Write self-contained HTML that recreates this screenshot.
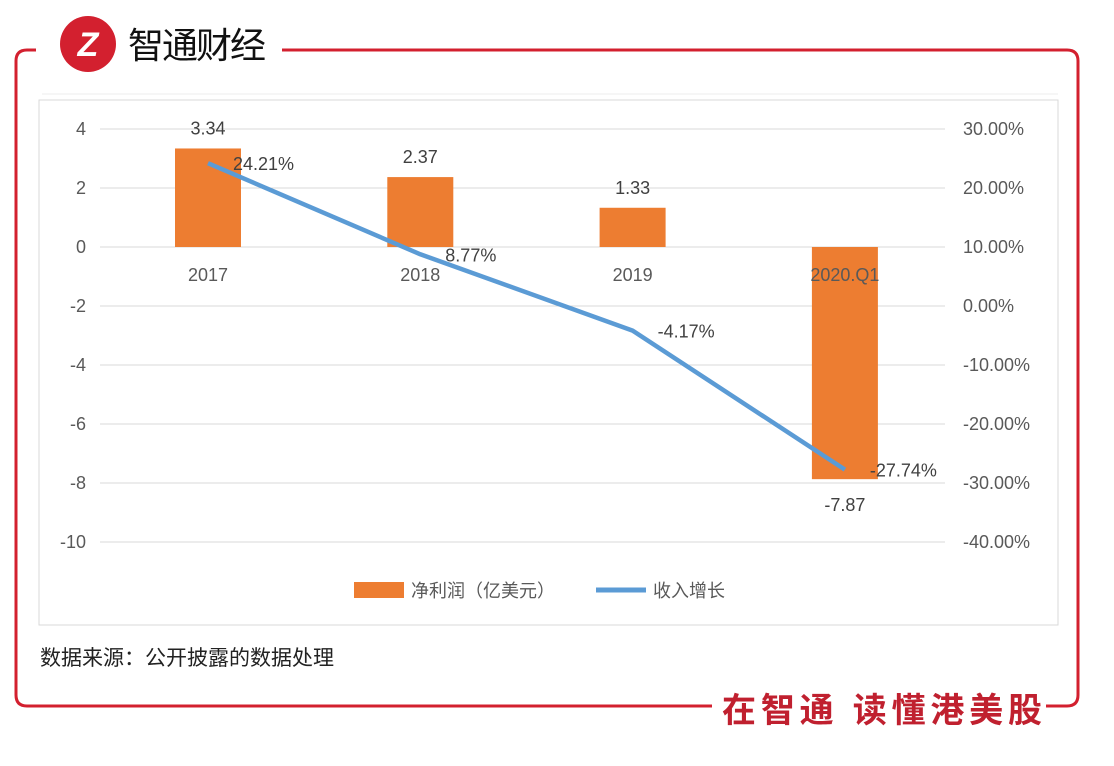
<!DOCTYPE html>
<html><head><meta charset="utf-8">
<style>
body{margin:0;background:#fff;width:1114px;height:761px;overflow:hidden;font-family:"Liberation Sans","Noto Sans CJK SC",sans-serif;}
svg text{font-family:"Liberation Sans","Noto Sans CJK SC",sans-serif;}
</style></head>
<body>
<svg width="1114" height="761">
<path d="M36,50 H27 Q16,50 16,61 V695 Q16,706 27,706 H712" fill="none" stroke="#d3202f" stroke-width="3"/>
<path d="M282,50 H1067 Q1078,50 1078,61 V695 Q1078,706 1067,706 H1046" fill="none" stroke="#d3202f" stroke-width="3"/>
<g>
<circle cx="88" cy="44" r="28" fill="#d3202f"/>
<text x="88" y="56" text-anchor="middle" fill="#fff" font-size="34" font-weight="bold" font-family="Liberation Serif,serif" font-style="italic">Z</text>
</g>
<text x="128" y="58" font-size="36" fill="#111" textLength="138">智通财经</text>
<line x1="42" y1="94" x2="1058" y2="94" stroke="#eee"/>
<rect x="39" y="100" width="1019" height="525" fill="#fff" stroke="#d9d9d9"/>
<g id="grid"></g><g id="marks"></g>
<g>
<rect x="354" y="582" width="50" height="16" fill="#ed7d31"/>
<text x="411" y="597" font-size="18" fill="#595959">净利润（亿美元）</text>
<line x1="596" y1="590" x2="646" y2="590" stroke="#5b9bd5" stroke-width="5"/>
<text x="653" y="597" font-size="18" fill="#595959">收入增长</text>
</g>
<text x="40" y="665" font-size="21" fill="#222" font-family="Liberation Serif,'Noto Serif CJK SC',serif">数据来源：公开披露的数据处理</text>
<text x="722" y="722" font-size="34" font-weight="bold" fill="#c0202f" textLength="320" lengthAdjust="spacing">在智通 读懂港美股</text>
</svg>
<script>
const categories=["2017","2018","2019","2020.Q1"];
const profit=[3.34,2.37,1.33,-7.87];
const growth=[24.21,8.77,-4.17,-27.74];
const leftTicks=[4,2,0,-2,-4,-6,-8,-10];
const rightTicks=[30,20,10,0,-10,-20,-30,-40];
const NS="http://www.w3.org/2000/svg";
const yL=v=>247-v*29.5, yR=v=>129+(30-v)*5.9;
const xC=i=>208+i*212.3;
function mk(t,a,p,txt){const e=document.createElementNS(NS,t);for(const k in a)e.setAttribute(k,a[k]);if(txt!==undefined)e.textContent=txt;p.appendChild(e);return e;}
const g=document.getElementById('grid'),m=document.getElementById('marks');
leftTicks.forEach(v=>{
 const l=mk('line',{x1:100,x2:945,y1:yL(v),y2:yL(v),stroke:'#d9d9d9'},g);
 
 
 const t=mk('text',{x:86,y:yL(v)+6,'text-anchor':'end','font-size':18,fill:'#595959'},g,String(v));
 
 
});
rightTicks.forEach(v=>{
 const t=mk('text',{x:963,y:yR(v)+6,'font-size':18,fill:'#595959'},g,v.toFixed(2)+'%');
 
 
});
profit.forEach((v,i)=>{
 const y0=yL(0),y1=yL(v);
 const r=mk('rect',{x:xC(i)-33,y:Math.min(y0,y1),width:66,height:Math.abs(y1-y0),fill:'#ed7d31'},m);
 
 
 const t=mk('text',{x:xC(i),y:v>=0?y1-14:y1+32,'text-anchor':'middle','font-size':18,fill:'#404040'},m,v.toFixed(2));
 
 
 const c=mk('text',{x:xC(i),y:281,'text-anchor':'middle','font-size':18,fill:'#595959'},m,categories[i]);
 
 
});
const pl=mk('polyline',{points:growth.map((v,i)=>xC(i)+','+yR(v)).join(' '),fill:'none',stroke:'#5b9bd5','stroke-width':4.5,'stroke-linejoin':'round'},m);


growth.forEach((v,i)=>{
 const t=mk('text',{x:xC(i)+25,y:yR(v)+7,'font-size':18,fill:'#404040'},m,v.toFixed(2)+'%');
 
 
});
</script>
</body></html>
